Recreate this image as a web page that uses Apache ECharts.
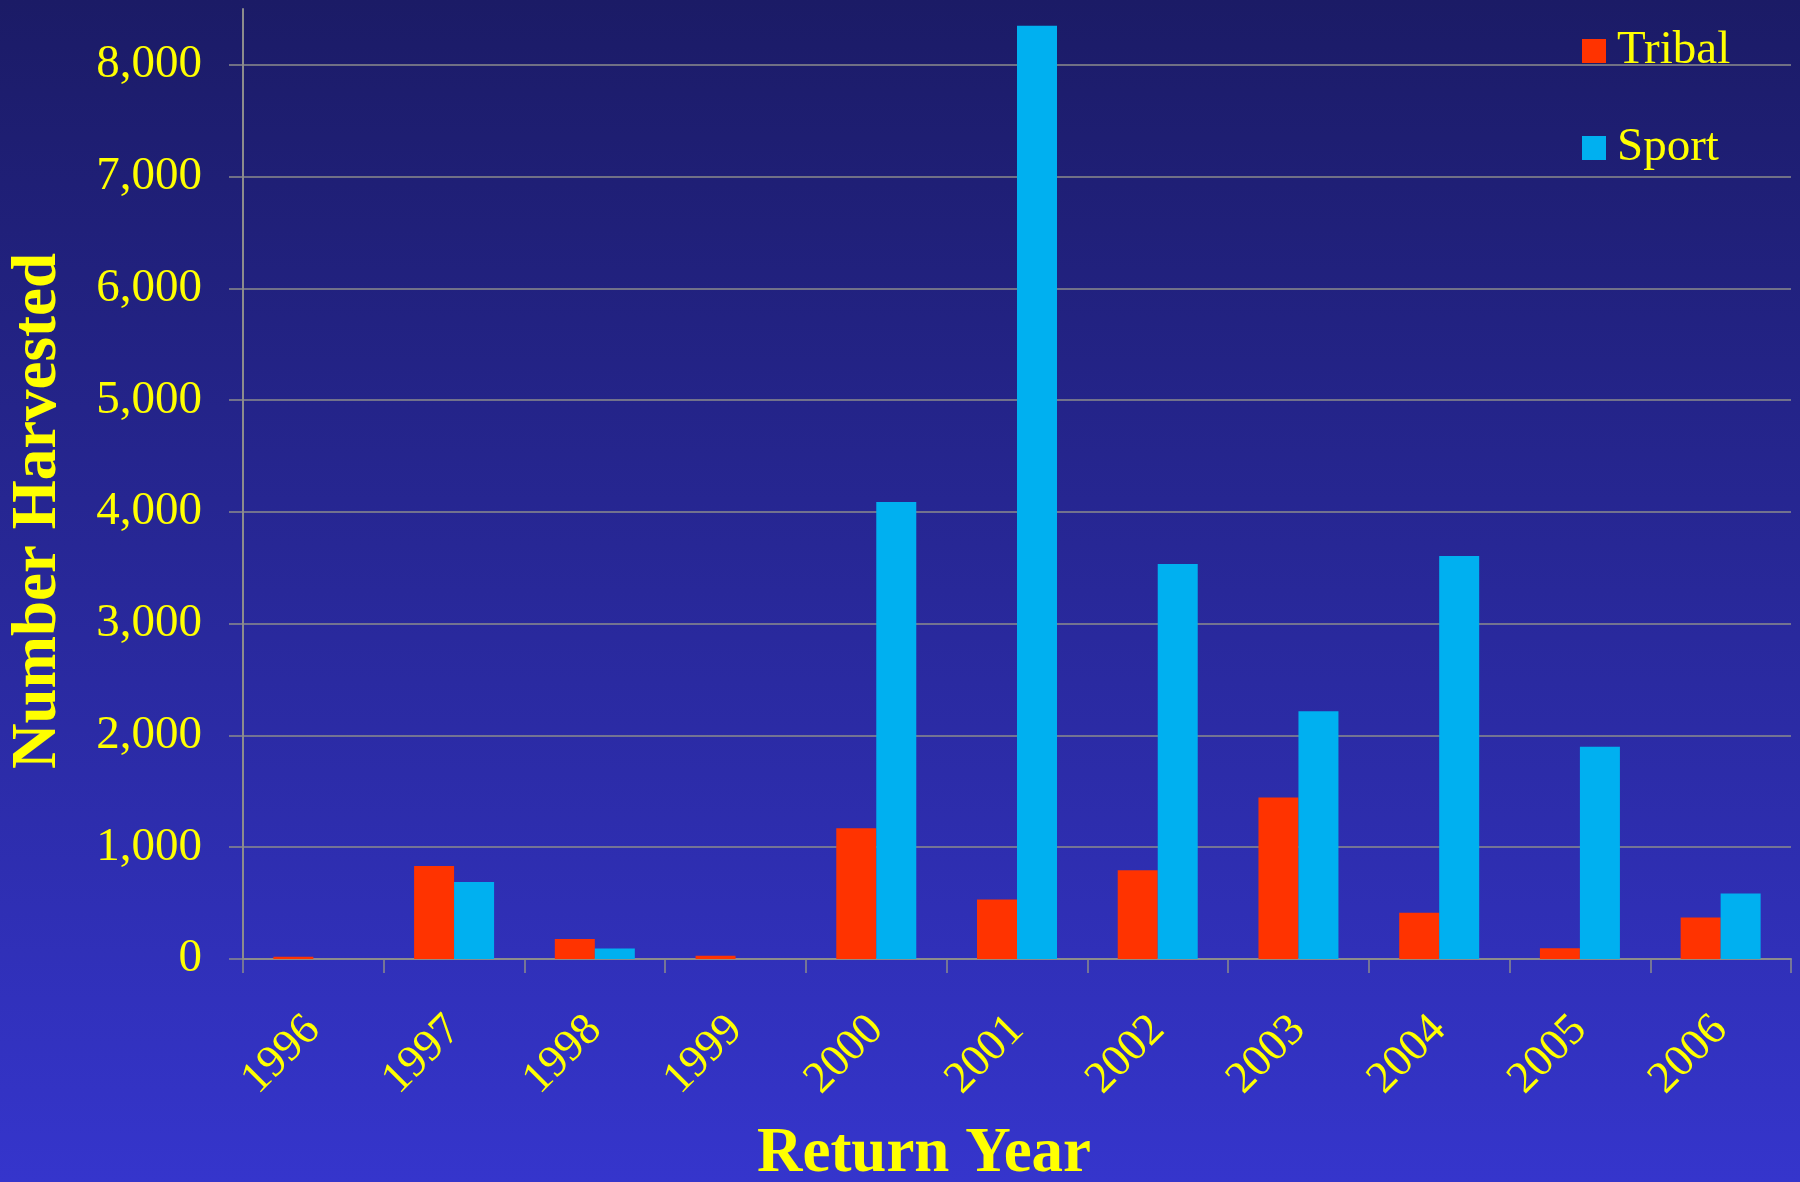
<!DOCTYPE html>
<html>
<head>
<meta charset="utf-8">
<title>Number Harvested by Return Year</title>
<script src="https://cdn.jsdelivr.net/npm/echarts@6/dist/echarts.min.js"></script>
<style>
  html, body { margin: 0; padding: 0; }
  #chart { width: 1800px; height: 1182px; }
</style>
</head>
<body>
<div id="chart"></div>
<script>
// values
var years = ['1996', '1997', '1998', '1999', '2000', '2001', '2002', '2003', '2004', '2005', '2006'];
var tribal = [20, 833, 180, 30, 1170, 532, 793, 1445, 414, 97, 371];
var sport = [0, 689, 93, 0, 4090, 8350, 3534, 2217, 3606, 1898, 585];
var yTicks = [0, 1000, 2000, 3000, 4000, 5000, 6000, 7000, 8000];

var serif = '"Liberation Serif", "DejaVu Serif", serif';
var yellow = '#ffff00';
var gray = '#8c8c8c';

var myChart = echarts.init(document.getElementById('chart'));

var option = {
  backgroundColor: new echarts.graphic.LinearGradient(0, 0, 0, 1, [
    { offset: 0, color: '#1b1b66' },
    { offset: 1, color: '#3535cc' }
  ]),
  animation: false,
  grid: { left: 243, right: 9, top: 9, bottom: 223, containLabel: false },
  legend: {
    orient: 'vertical',
    left: 1577,
    top: 22,
    itemWidth: 24,
    itemHeight: 24,
    itemGap: 49,
    icon: 'rect',
    textStyle: { color: yellow, fontFamily: serif, fontSize: 47, lineHeight: 48, padding: [0, 0, 0, 6] },
    data: ['Tribal', 'Sport']
  },
  xAxis: {
    type: 'category',
    data: years,
    axisLine: { lineStyle: { color: gray, width: 2 } },
    axisTick: { show: true, length: 14, lineStyle: { color: gray, width: 1.5 } },
    axisLabel: { rotate: 45, margin: 64, color: yellow, fontFamily: serif, fontSize: 45 },
    splitLine: { show: false }
  },
  yAxis: {
    type: 'value',
    min: 0,
    max: 8500,
    interval: 1000,
    axisLine: { show: true, lineStyle: { color: gray, width: 2 } },
    axisTick: { show: true, length: 14, customValues: yTicks, lineStyle: { color: gray, width: 1.5 } },
    axisLabel: {
      customValues: yTicks,
      margin: 41,
      color: yellow,
      fontFamily: serif,
      fontSize: 47,
      formatter: function (v) { return v.toLocaleString('en-US'); }
    },
    splitLine: { show: true, lineStyle: { color: gray, width: 1.5 } }
  },
  graphic: [
    {
      type: 'text',
      x: 924,
      y: 1155,
      style: {
        text: 'Return Year',
        fill: yellow,
        font: 'bold 63px ' + serif,
        textAlign: 'center',
        textVerticalAlign: 'middle'
      }
    },
    {
      type: 'text',
      x: 39,
      y: 511,
      rotation: Math.PI / 2,
      style: {
        text: 'Number Harvested',
        fill: yellow,
        font: 'bold 63px ' + serif,
        textAlign: 'center',
        textVerticalAlign: 'middle'
      }
    }
  ],
  series: [
    {
      name: 'Tribal',
      type: 'bar',
      data: tribal,
      barWidth: 40,
      barGap: '0%',
      itemStyle: { color: '#ff3300' }
    },
    {
      name: 'Sport',
      type: 'bar',
      data: sport,
      barWidth: 40,
      barGap: '0%',
      itemStyle: { color: '#00b0f0' }
    }
  ]
};

myChart.setOption(option);
</script>
</body>
</html>
